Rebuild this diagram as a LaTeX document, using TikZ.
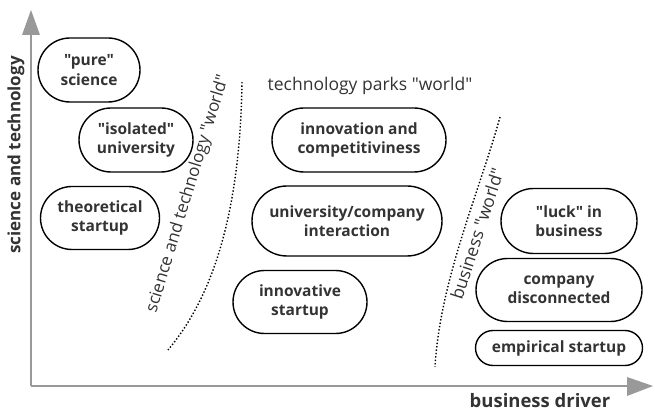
\documentclass[tikz,border=0pt]{standalone}
\usepackage{fontspec}
\newfontfamily\osans{Open Sans}
\usetikzlibrary{shapes.misc}
\definecolor{txt}{HTML}{333333}
\definecolor{axisgray}{HTML}{999999}
\tikzset{
  pill/.style={rounded rectangle, draw=black, line width=1.4pt, inner sep=0pt,
    align=center, text=txt, font=\osans\fontsize{15.5}{19.5}\selectfont\bfseries},
  worldlbl/.style={text=txt, font=\osans\fontsize{17.5}{20}\selectfont, inner sep=0pt},
  axislbl/.style={text=txt, font=\osans\fontsize{17}{20}\selectfont\bfseries, inner sep=0pt},
  axisline/.style={draw=axisgray, line width=2pt},
  axishead/.style={fill=axisgray, draw=none},
  bound/.style={dotted, line width=1.4pt, black}
}
\begin{document}
\begin{tikzpicture}[x=1pt,y=-1pt]
\useasboundingbox (0,0) rectangle (655,411);
% axes
\coordinate (O) at (31,386);
\coordinate (Ytop) at (31,34);
\coordinate (Xend) at (628,386);
\draw[axisline] (O) -- (Ytop);
\draw[axisline] (O) -- (Xend);
\fill[axishead] (22,35) -- (31,10) -- (40,35) -- cycle;
\fill[axishead] (627,377) -- (653,386) -- (627,396) -- cycle;
\node[axislbl, rotate=90] (ylab) at (16,155) {science and technology};
\node[axislbl, font=\osans\fontsize{18.5}{20}\selectfont\bfseries] (xlab) at (540,401) {business driver};
% nodes
\node[pill, minimum width=102pt, minimum height=64pt] (pure) at (89,70) {"pure"\\science};
\node[pill, minimum width=114pt, minimum height=64pt] (iso) at (136,140) {"isolated"\\university};
\node[pill, minimum width=119pt, minimum height=63pt] (theo) at (100,218) {theoretical\\startup};
\node[pill, minimum width=174pt, minimum height=64pt] (innov) at (359,140) {innovation and\\competitiviness};
\node[pill, minimum width=190pt, minimum height=70pt] (unico) at (347,221) {university/company\\interaction};
\node[pill, minimum width=134pt, minimum height=63pt] (ist) at (300,302) {innovative\\startup};
\node[pill, minimum width=136pt, minimum height=65pt] (luck) at (569,221) {"luck" in\\business};
\node[pill, minimum width=166pt, minimum height=63pt] (comp) at (559,290) {company\\disconnected};
\node[pill, minimum width=167pt, minimum height=35pt] (emp) at (559,348) {empirical startup};
% boundaries
\coordinate (a1) at (242,82);
\coordinate (a2) at (168,350);
\draw[bound] (a1) .. controls (240,220) and (210,300) .. (a2);
\coordinate (b1) at (500,117);
\coordinate (b2) at (435,367);
\draw[bound] (b1) .. controls (480,190) and (440,280) .. (b2);
% world labels
\node[worldlbl, rotate=73, font=\osans\fontsize{17}{20}\selectfont] (stw) at (188,194) {science and technology "world"};
\node[worldlbl] (tpw) at (370,86) {technology parks "world"};
\node[worldlbl, rotate=72] (bw) at (477,234) {business "world"};
\end{tikzpicture}
\end{document}
